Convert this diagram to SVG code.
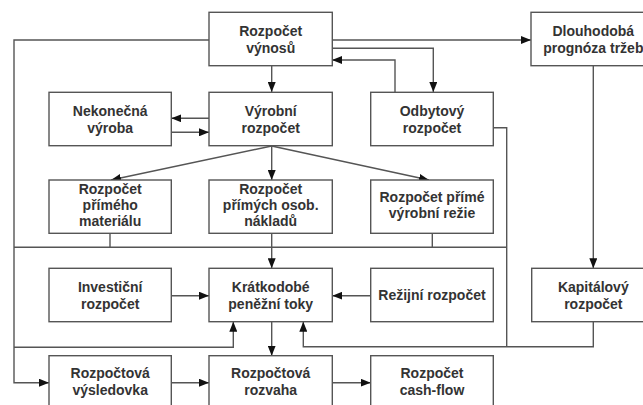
<svg xmlns="http://www.w3.org/2000/svg" width="643" height="405" viewBox="0 0 643 405">
<defs>
<marker id="ah" viewBox="0 0 10 8" refX="10" refY="4" markerWidth="10" markerHeight="8" markerUnits="userSpaceOnUse" orient="auto">
<path d="M0,0 L10,4 L0,8 Z" fill="#111"/>
</marker>
<style>
.box{fill:#fff;stroke:#555;stroke-width:1.4}
.t{font-family:"Liberation Sans",Arial,sans-serif;font-weight:bold;font-size:14px;fill:#333;text-anchor:middle}
.c{fill:none;stroke:#555;stroke-width:1.4}
.a{fill:none;stroke:#555;stroke-width:1.4;marker-end:url(#ah)}
</style>
</defs>
<rect width="643" height="405" fill="#fff"/>
<g id="connectors">
<polyline class="a" points="209,40 14,40 14,382.7 49,382.7"/>
<line class="a" x1="332" y1="40" x2="531" y2="40"/>
<polyline class="a" points="332,48.3 433.3,48.3 433.3,92"/>
<polyline class="a" points="395,92 395,60 332,60"/>
<line class="a" x1="271.7" y1="66" x2="271.7" y2="92"/>
<line class="a" x1="209" y1="118.3" x2="171.3" y2="118.3"/>
<line class="a" x1="171.3" y1="132.3" x2="209" y2="132.3"/>
<line class="a" x1="271.7" y1="146" x2="111" y2="180"/>
<line class="a" x1="271.7" y1="146" x2="271.7" y2="180"/>
<line class="a" x1="271.7" y1="146" x2="429" y2="180"/>
<polyline class="c" points="493.3,127.7 506.7,127.7 506.7,346.7"/>
<line class="c" x1="14" y1="247.3" x2="506.7" y2="247.3"/>
<line class="c" x1="110" y1="233.3" x2="110" y2="247.3"/>
<line class="c" x1="432.3" y1="233.3" x2="432.3" y2="247.3"/>
<line class="a" x1="271.7" y1="233.3" x2="271.7" y2="268.3"/>
<line class="a" x1="171.3" y1="295.7" x2="209" y2="295.7"/>
<line class="a" x1="370.7" y1="295.7" x2="332.3" y2="295.7"/>
<line class="a" x1="593.3" y1="66" x2="593.3" y2="268.3"/>
<polyline class="a" points="14,347.3 233.3,347.3 233.3,321.7"/>
<polyline class="a" points="593.3,321.7 593.3,346.7 303.3,346.7 303.3,321.7"/>
<line class="a" x1="271.7" y1="321.7" x2="271.7" y2="355.7"/>
<line class="a" x1="171.3" y1="382.7" x2="209" y2="382.7"/>
<line class="a" x1="332.3" y1="382.7" x2="370.7" y2="382.7"/>
</g>
<g id="vynosy"><rect class="box" x="209" y="12.3" width="123.3" height="53.4"/><text class="t" x="270.7" y="35.5">Rozpočet</text><text class="t" x="270.7" y="52.5">výnosů</text></g>
<g id="dlouhodoba"><rect class="box" x="531" y="12.3" width="124" height="53.4"/><text class="t" x="593.3" y="35.5">Dlouhodobá</text><text class="t" x="593.3" y="52.5">prognóza tržeb</text></g>
<g id="nekonecna"><rect class="box" x="49" y="92.3" width="122.3" height="53.4"/><text class="t" x="110.2" y="115.5">Nekonečná</text><text class="t" x="110.2" y="132.5">výroba</text></g>
<g id="vyrobni"><rect class="box" x="209" y="92.3" width="123.3" height="53.4"/><text class="t" x="270.7" y="115.5">Výrobní</text><text class="t" x="270.7" y="132.5">rozpočet</text></g>
<g id="odbytovy"><rect class="box" x="370.7" y="92.3" width="122.6" height="53.4"/><text class="t" x="432" y="115.5">Odbytový</text><text class="t" x="432" y="132.5">rozpočet</text></g>
<g id="material"><rect class="box" x="49" y="180" width="122.3" height="53.3"/><text class="t" x="110.2" y="193.5">Rozpočet</text><text class="t" x="110.2" y="209.5">přímého</text><text class="t" x="110.2" y="225.5">materiálu</text></g>
<g id="osobni"><rect class="box" x="209" y="180" width="123.3" height="53.3"/><text class="t" x="270.7" y="193.5">Rozpočet</text><text class="t" x="270.7" y="209.5">přímých osob.</text><text class="t" x="270.7" y="225.5">nákladů</text></g>
<g id="rezie"><rect class="box" x="370.7" y="180" width="122.6" height="53.3"/><text class="t" x="432" y="202">Rozpočet přímé</text><text class="t" x="432" y="218">výrobní režie</text></g>
<g id="investicni"><rect class="box" x="49" y="268.3" width="122.3" height="53.4"/><text class="t" x="110.2" y="291.5">Investiční</text><text class="t" x="110.2" y="308.5">rozpočet</text></g>
<g id="kratkodobe"><rect class="box" x="209" y="268.3" width="123.3" height="53.4"/><text class="t" x="270.7" y="291.5">Krátkodobé</text><text class="t" x="270.7" y="308.5">peněžní toky</text></g>
<g id="rezijni"><rect class="box" x="370.7" y="268.3" width="122.6" height="53.4"/><text class="t" x="432" y="299.5">Režijní rozpočet</text></g>
<g id="kapitalovy"><rect class="box" x="531.7" y="268.3" width="123.3" height="53.4"/><text class="t" x="593.3" y="291.5">Kapitálový</text><text class="t" x="593.3" y="308.5">rozpočet</text></g>
<g id="vysledovka"><rect class="box" x="49" y="355.7" width="122.3" height="54"/><text class="t" x="110.2" y="377.5">Rozpočtová</text><text class="t" x="110.2" y="394.5">výsledovka</text></g>
<g id="rozvaha"><rect class="box" x="209" y="355.7" width="123.3" height="54"/><text class="t" x="270.7" y="377.5">Rozpočtová</text><text class="t" x="270.7" y="394.5">rozvaha</text></g>
<g id="cashflow"><rect class="box" x="370.7" y="355.7" width="122.6" height="54"/><text class="t" x="432" y="377.5">Rozpočet</text><text class="t" x="432" y="394.5">cash-flow</text></g>
</svg>
